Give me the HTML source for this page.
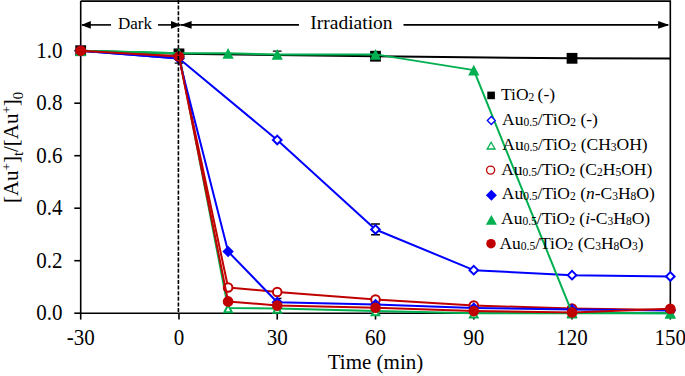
<!DOCTYPE html>
<html><head><meta charset="utf-8"><style>html,body{margin:0;padding:0;background:#fff;}body{width:685px;height:376px;overflow:hidden;}svg{display:block;}text{font-family:"Liberation Serif",serif;fill:#000;}</style></head><body>
<svg width="685" height="376" viewBox="0 0 685 376">
<path d="M80.70,1.1 H670.31 V313.20" fill="none" stroke="#000" stroke-width="1.6"/>
<line x1="80.70" y1="1.1" x2="80.70" y2="314.00" stroke="#000" stroke-width="1.6"/>
<line x1="79.90" y1="313.20" x2="671.11" y2="313.20" stroke="#000" stroke-width="1.6"/>
<line x1="74.30" y1="313.20" x2="80.70" y2="313.20" stroke="#000" stroke-width="1.6"/>
<text transform="translate(62.6,320.10) scale(1,1.07)" font-size="21" text-anchor="end">0.0</text>
<line x1="74.30" y1="260.70" x2="80.70" y2="260.70" stroke="#000" stroke-width="1.6"/>
<text transform="translate(62.6,267.60) scale(1,1.07)" font-size="21" text-anchor="end">0.2</text>
<line x1="74.30" y1="208.20" x2="80.70" y2="208.20" stroke="#000" stroke-width="1.6"/>
<text transform="translate(62.6,215.10) scale(1,1.07)" font-size="21" text-anchor="end">0.4</text>
<line x1="74.30" y1="155.70" x2="80.70" y2="155.70" stroke="#000" stroke-width="1.6"/>
<text transform="translate(62.6,162.60) scale(1,1.07)" font-size="21" text-anchor="end">0.6</text>
<line x1="74.30" y1="103.20" x2="80.70" y2="103.20" stroke="#000" stroke-width="1.6"/>
<text transform="translate(62.6,110.10) scale(1,1.07)" font-size="21" text-anchor="end">0.8</text>
<line x1="74.30" y1="50.70" x2="80.70" y2="50.70" stroke="#000" stroke-width="1.6"/>
<text transform="translate(62.6,57.60) scale(1,1.07)" font-size="21" text-anchor="end">1.0</text>
<line x1="80.70" y1="313.20" x2="80.70" y2="319.60" stroke="#000" stroke-width="1.6"/>
<text transform="translate(80.70,344.8) scale(1,1.07)" font-size="21" text-anchor="middle">-30</text>
<line x1="178.97" y1="313.20" x2="178.97" y2="319.60" stroke="#000" stroke-width="1.6"/>
<text transform="translate(178.97,344.8) scale(1,1.07)" font-size="21" text-anchor="middle">0</text>
<line x1="277.24" y1="313.20" x2="277.24" y2="319.60" stroke="#000" stroke-width="1.6"/>
<text transform="translate(277.24,344.8) scale(1,1.07)" font-size="21" text-anchor="middle">30</text>
<line x1="375.50" y1="313.20" x2="375.50" y2="319.60" stroke="#000" stroke-width="1.6"/>
<text transform="translate(375.50,344.8) scale(1,1.07)" font-size="21" text-anchor="middle">60</text>
<line x1="473.77" y1="313.20" x2="473.77" y2="319.60" stroke="#000" stroke-width="1.6"/>
<text transform="translate(473.77,344.8) scale(1,1.07)" font-size="21" text-anchor="middle">90</text>
<line x1="572.04" y1="313.20" x2="572.04" y2="319.60" stroke="#000" stroke-width="1.6"/>
<text transform="translate(572.04,344.8) scale(1,1.07)" font-size="21" text-anchor="middle">120</text>
<line x1="670.31" y1="313.20" x2="670.31" y2="319.60" stroke="#000" stroke-width="1.6"/>
<text transform="translate(670.31,344.8) scale(1,1.07)" font-size="21" text-anchor="middle">150</text>
<path d="M80.70,50.70 L178.97,53.85 L375.50,56.21 L572.04,58.31 L670.31,58.57" fill="none" stroke="#000000" stroke-width="2.0" stroke-linejoin="round"/>
<rect x="75.30" y="45.30" width="10.80" height="10.80" fill="#000000"/>
<rect x="173.57" y="48.45" width="10.80" height="10.80" fill="#000000"/>
<rect x="370.10" y="50.81" width="10.80" height="10.80" fill="#000000"/>
<rect x="566.64" y="52.91" width="10.80" height="10.80" fill="#000000"/>
<path d="M80.70,50.70 L178.97,58.57 L277.24,139.95 L375.50,229.46 L473.77,270.15 L572.04,275.14 L670.31,276.45" fill="none" stroke="#0000FF" stroke-width="2.0" stroke-linejoin="round"/>
<path d="M371.10,224.00 H379.90 M371.10,234.80 H379.90 M375.50,224 V234.8" fill="none" stroke="#000" stroke-width="1.4"/>
<polygon points="80.70,46.40 85.00,50.70 80.70,55.00 76.40,50.70" fill="#fff" stroke="#0000FF" stroke-width="2.0"/>
<polygon points="178.97,54.27 183.27,58.57 178.97,62.87 174.67,58.57" fill="#fff" stroke="#0000FF" stroke-width="2.0"/>
<polygon points="277.24,135.65 281.54,139.95 277.24,144.25 272.94,139.95" fill="#fff" stroke="#0000FF" stroke-width="2.0"/>
<polygon points="375.50,225.16 379.80,229.46 375.50,233.76 371.20,229.46" fill="#fff" stroke="#0000FF" stroke-width="2.0"/>
<polygon points="473.77,265.85 478.07,270.15 473.77,274.45 469.47,270.15" fill="#fff" stroke="#0000FF" stroke-width="2.0"/>
<polygon points="572.04,270.84 576.34,275.14 572.04,279.44 567.74,275.14" fill="#fff" stroke="#0000FF" stroke-width="2.0"/>
<polygon points="670.31,272.15 674.61,276.45 670.31,280.75 666.01,276.45" fill="#fff" stroke="#0000FF" stroke-width="2.0"/>
<path d="M80.70,50.70 L178.97,53.32 L228.10,307.95 L277.24,308.47 L375.50,311.10 L473.77,313.20 L572.04,313.20 L670.31,313.20" fill="none" stroke="#00B050" stroke-width="2.0" stroke-linejoin="round"/>
<polygon points="80.70,47.72 84.50,54.94 76.90,54.94" fill="#fff" stroke="#00B050" stroke-width="2.0" stroke-linejoin="miter"/>
<polygon points="178.97,50.34 182.77,57.56 175.17,57.56" fill="#fff" stroke="#00B050" stroke-width="2.0" stroke-linejoin="miter"/>
<polygon points="228.10,304.97 231.90,312.19 224.30,312.19" fill="#fff" stroke="#00B050" stroke-width="2.0" stroke-linejoin="miter"/>
<polygon points="277.24,305.49 281.04,312.71 273.44,312.71" fill="#fff" stroke="#00B050" stroke-width="2.0" stroke-linejoin="miter"/>
<polygon points="375.50,308.12 379.30,315.34 371.70,315.34" fill="#fff" stroke="#00B050" stroke-width="2.0" stroke-linejoin="miter"/>
<polygon points="473.77,310.22 477.57,317.44 469.97,317.44" fill="#fff" stroke="#00B050" stroke-width="2.0" stroke-linejoin="miter"/>
<polygon points="572.04,310.22 575.84,317.44 568.24,317.44" fill="#fff" stroke="#00B050" stroke-width="2.0" stroke-linejoin="miter"/>
<polygon points="670.31,310.22 674.11,317.44 666.51,317.44" fill="#fff" stroke="#00B050" stroke-width="2.0" stroke-linejoin="miter"/>
<path d="M80.70,50.70 L178.97,56.47 L228.10,287.47 L277.24,291.94 L375.50,299.55 L473.77,305.59 L572.04,308.47 L670.31,310.05" fill="none" stroke="#C00000" stroke-width="2.0" stroke-linejoin="round"/>
<path d="M173.97,50.00 H183.97 M174.67,63.10 H183.27 M178.97,50 V63.1" fill="none" stroke="#000" stroke-width="1.4"/>
<circle cx="80.70" cy="50.70" r="4.30" fill="#fff" stroke="#C00000" stroke-width="2.0"/>
<circle cx="178.97" cy="56.47" r="4.30" fill="#fff" stroke="#C00000" stroke-width="2.0"/>
<circle cx="228.10" cy="287.47" r="4.30" fill="#fff" stroke="#C00000" stroke-width="2.0"/>
<circle cx="277.24" cy="291.94" r="4.30" fill="#fff" stroke="#C00000" stroke-width="2.0"/>
<circle cx="375.50" cy="299.55" r="4.30" fill="#fff" stroke="#C00000" stroke-width="2.0"/>
<circle cx="473.77" cy="305.59" r="4.30" fill="#fff" stroke="#C00000" stroke-width="2.0"/>
<circle cx="572.04" cy="308.47" r="4.30" fill="#fff" stroke="#C00000" stroke-width="2.0"/>
<circle cx="670.31" cy="310.05" r="4.30" fill="#fff" stroke="#C00000" stroke-width="2.0"/>
<path d="M80.70,50.70 L178.97,58.57 L228.10,251.51 L277.24,302.18 L375.50,304.54 L473.77,307.95 L572.04,309.52 L670.31,310.57" fill="none" stroke="#0000FF" stroke-width="2.0" stroke-linejoin="round"/>
<path d="M278.24,298.4 H281.54" fill="none" stroke="#000" stroke-width="1.4"/>
<polygon points="80.70,45.00 86.40,50.70 80.70,56.40 75.00,50.70" fill="#0000FF"/>
<polygon points="178.97,52.87 184.67,58.57 178.97,64.27 173.27,58.57" fill="#0000FF"/>
<polygon points="228.10,245.81 233.80,251.51 228.10,257.21 222.40,251.51" fill="#0000FF"/>
<polygon points="277.24,296.48 282.94,302.18 277.24,307.88 271.54,302.18" fill="#0000FF"/>
<polygon points="375.50,298.84 381.20,304.54 375.50,310.24 369.80,304.54" fill="#0000FF"/>
<polygon points="473.77,302.25 479.47,307.95 473.77,313.65 468.07,307.95" fill="#0000FF"/>
<polygon points="572.04,303.82 577.74,309.52 572.04,315.22 566.34,309.52" fill="#0000FF"/>
<polygon points="670.31,304.88 676.01,310.57 670.31,316.27 664.61,310.57" fill="#0000FF"/>
<path d="M80.70,50.70 L178.97,53.32 L228.10,53.32 L277.24,54.38 L375.50,54.38 L473.77,70.12 L572.04,312.68 L670.31,313.20" fill="none" stroke="#00B050" stroke-width="2.0" stroke-linejoin="round"/>
<path d="M272.89,51.10 H281.59 M277.24,51.1 V56" fill="none" stroke="#000" stroke-width="1.4"/>
<polygon points="80.70,45.38 86.30,56.02 75.10,56.02" fill="#00B050"/>
<polygon points="178.97,48.00 184.57,58.64 173.37,58.64" fill="#00B050"/>
<polygon points="228.10,48.00 233.70,58.64 222.50,58.64" fill="#00B050"/>
<polygon points="277.24,49.05 282.84,59.70 271.64,59.70" fill="#00B050"/>
<polygon points="375.50,49.05 381.10,59.70 369.90,59.70" fill="#00B050"/>
<polygon points="473.77,64.80 479.37,75.44 468.17,75.44" fill="#00B050"/>
<polygon points="572.04,307.36 577.64,318.00 566.44,318.00" fill="#00B050"/>
<polygon points="670.31,307.88 675.91,318.52 664.71,318.52" fill="#00B050"/>
<path d="M80.70,50.70 L178.97,56.47 L228.10,301.39 L277.24,305.59 L375.50,307.69 L473.77,311.10 L572.04,312.41 L670.31,308.74" fill="none" stroke="#C00000" stroke-width="2.0" stroke-linejoin="round"/>
<circle cx="80.70" cy="50.70" r="5.30" fill="#C00000"/>
<circle cx="178.97" cy="56.47" r="5.30" fill="#C00000"/>
<circle cx="228.10" cy="301.39" r="5.30" fill="#C00000"/>
<circle cx="277.24" cy="305.59" r="5.30" fill="#C00000"/>
<circle cx="375.50" cy="307.69" r="5.30" fill="#C00000"/>
<circle cx="473.77" cy="311.10" r="5.30" fill="#C00000"/>
<circle cx="572.04" cy="312.41" r="5.30" fill="#C00000"/>
<circle cx="670.31" cy="308.74" r="5.30" fill="#C00000"/>
<line x1="178.4" y1="0" x2="178.4" y2="313.20" stroke="#000" stroke-width="1.6" stroke-dasharray="4,1.6"/>
<polygon points="81.30,24.9 90.80,21.00 90.80,28.80" fill="#000"/>
<line x1="82" y1="24.9" x2="111" y2="24.9" stroke="#000" stroke-width="1.6"/>
<line x1="158" y1="24.9" x2="180.5" y2="24.9" stroke="#000" stroke-width="1.6"/>
<polygon points="181.30,24.9 171.00,21.00 171.00,28.80" fill="#000"/>
<polygon points="180.60,24.9 191.60,21.00 191.60,28.80" fill="#000"/>
<line x1="181" y1="24.9" x2="299" y2="24.9" stroke="#000" stroke-width="1.6"/>
<line x1="403.5" y1="24.9" x2="668" y2="24.9" stroke="#000" stroke-width="1.6"/>
<polygon points="669.40,24.9 658.10,21.00 658.10,28.80" fill="#000"/>
<text x="118" y="29.2" font-size="17">Dark</text>
<text x="310.3" y="29" font-size="19.5">Irradiation</text>
<text x="375.5" y="369.4" font-size="21" text-anchor="middle">Time (min)</text>
<text transform="translate(18.3,147.5) rotate(-90)" font-size="21" text-anchor="middle">[Au<tspan font-size="13" dy="-7.5">+</tspan><tspan dy="7.5">]</tspan><tspan font-size="14.5" dy="5">t</tspan><tspan dy="-5">/[Au</tspan><tspan font-size="13" dy="-7.5">+</tspan><tspan dy="7.5">]</tspan><tspan font-size="14.5" dy="5">0</tspan></text>
<rect x="487.30" y="91.60" width="7.60" height="7.60" fill="#000000"/>
<text x="501.0" y="100.0" font-size="17.5">TiO<tspan font-size="11.5" dy="1">2</tspan><tspan dy="-1" dx="-1.1"> (-)</tspan></text>
<polygon points="491.30,116.51 495.29,120.50 491.30,124.49 487.31,120.50" fill="#fff" stroke="#0000FF" stroke-width="1.3"/>
<text x="502.1" y="124.8" font-size="17.5">Au<tspan font-size="11.5" dy="1">0.5</tspan><tspan dy="-1">/TiO</tspan><tspan font-size="11.5" dy="1">2</tspan><tspan dy="-1"> (-)</tspan></text>
<polygon points="491.10,142.22 495.03,149.00 487.17,149.00" fill="#fff" stroke="#00B050" stroke-width="1.3" stroke-linejoin="miter"/>
<text x="502.3" y="149.7" font-size="17.5">Au<tspan font-size="11.5" dy="1">0.5</tspan><tspan dy="-1">/TiO</tspan><tspan font-size="11.5" dy="1">2</tspan><tspan dy="-1"> (CH</tspan><tspan font-size="11.5" dy="1">3</tspan><tspan dy="-1">OH)</tspan></text>
<circle cx="490.60" cy="170.10" r="4.05" fill="#fff" stroke="#C00000" stroke-width="1.3"/>
<text x="501.2" y="174.7" font-size="17.5">Au<tspan font-size="11.5" dy="1">0.5</tspan><tspan dy="-1">/TiO</tspan><tspan font-size="11.5" dy="1">2</tspan><tspan dy="-1"> (C</tspan><tspan font-size="11.5" dy="1">2</tspan><tspan dy="-1">H</tspan><tspan font-size="11.5" dy="1">5</tspan><tspan dy="-1">OH)</tspan></text>
<polygon points="491.40,189.70 496.90,195.20 491.40,200.70 485.90,195.20" fill="#0000FF"/>
<text x="501.8" y="199.4" font-size="17.5">Au<tspan font-size="11.5" dy="1">0.5</tspan><tspan dy="-1">/TiO</tspan><tspan font-size="11.5" dy="1">2</tspan><tspan dy="-1"> (</tspan><tspan font-style="italic">n</tspan>-C<tspan font-size="11.5" dy="1">3</tspan><tspan dy="-1">H</tspan><tspan font-size="11.5" dy="1">8</tspan><tspan dy="-1">O)</tspan></text>
<polygon points="491.40,214.95 496.90,224.65 485.90,224.65" fill="#00B050"/>
<text x="501.0" y="223.7" font-size="17.5">Au<tspan font-size="11.5" dy="1">0.5</tspan><tspan dy="-1">/TiO</tspan><tspan font-size="11.5" dy="1">2</tspan><tspan dy="-1"> (</tspan><tspan font-style="italic">i</tspan>-C<tspan font-size="11.5" dy="1">3</tspan><tspan dy="-1">H</tspan><tspan font-size="11.5" dy="1">8</tspan><tspan dy="-1">O)</tspan></text>
<circle cx="491.00" cy="243.70" r="4.75" fill="#C00000"/>
<text x="499.4" y="248.5" font-size="17.5">Au<tspan font-size="11.5" dy="1">0.5</tspan><tspan dy="-1">/TiO</tspan><tspan font-size="11.5" dy="1">2</tspan><tspan dy="-1"> (C</tspan><tspan font-size="11.5" dy="1">3</tspan><tspan dy="-1">H</tspan><tspan font-size="11.5" dy="1">8</tspan><tspan dy="-1">O</tspan><tspan font-size="11.5" dy="1">3</tspan><tspan dy="-1">)</tspan></text>
</svg></body></html>
